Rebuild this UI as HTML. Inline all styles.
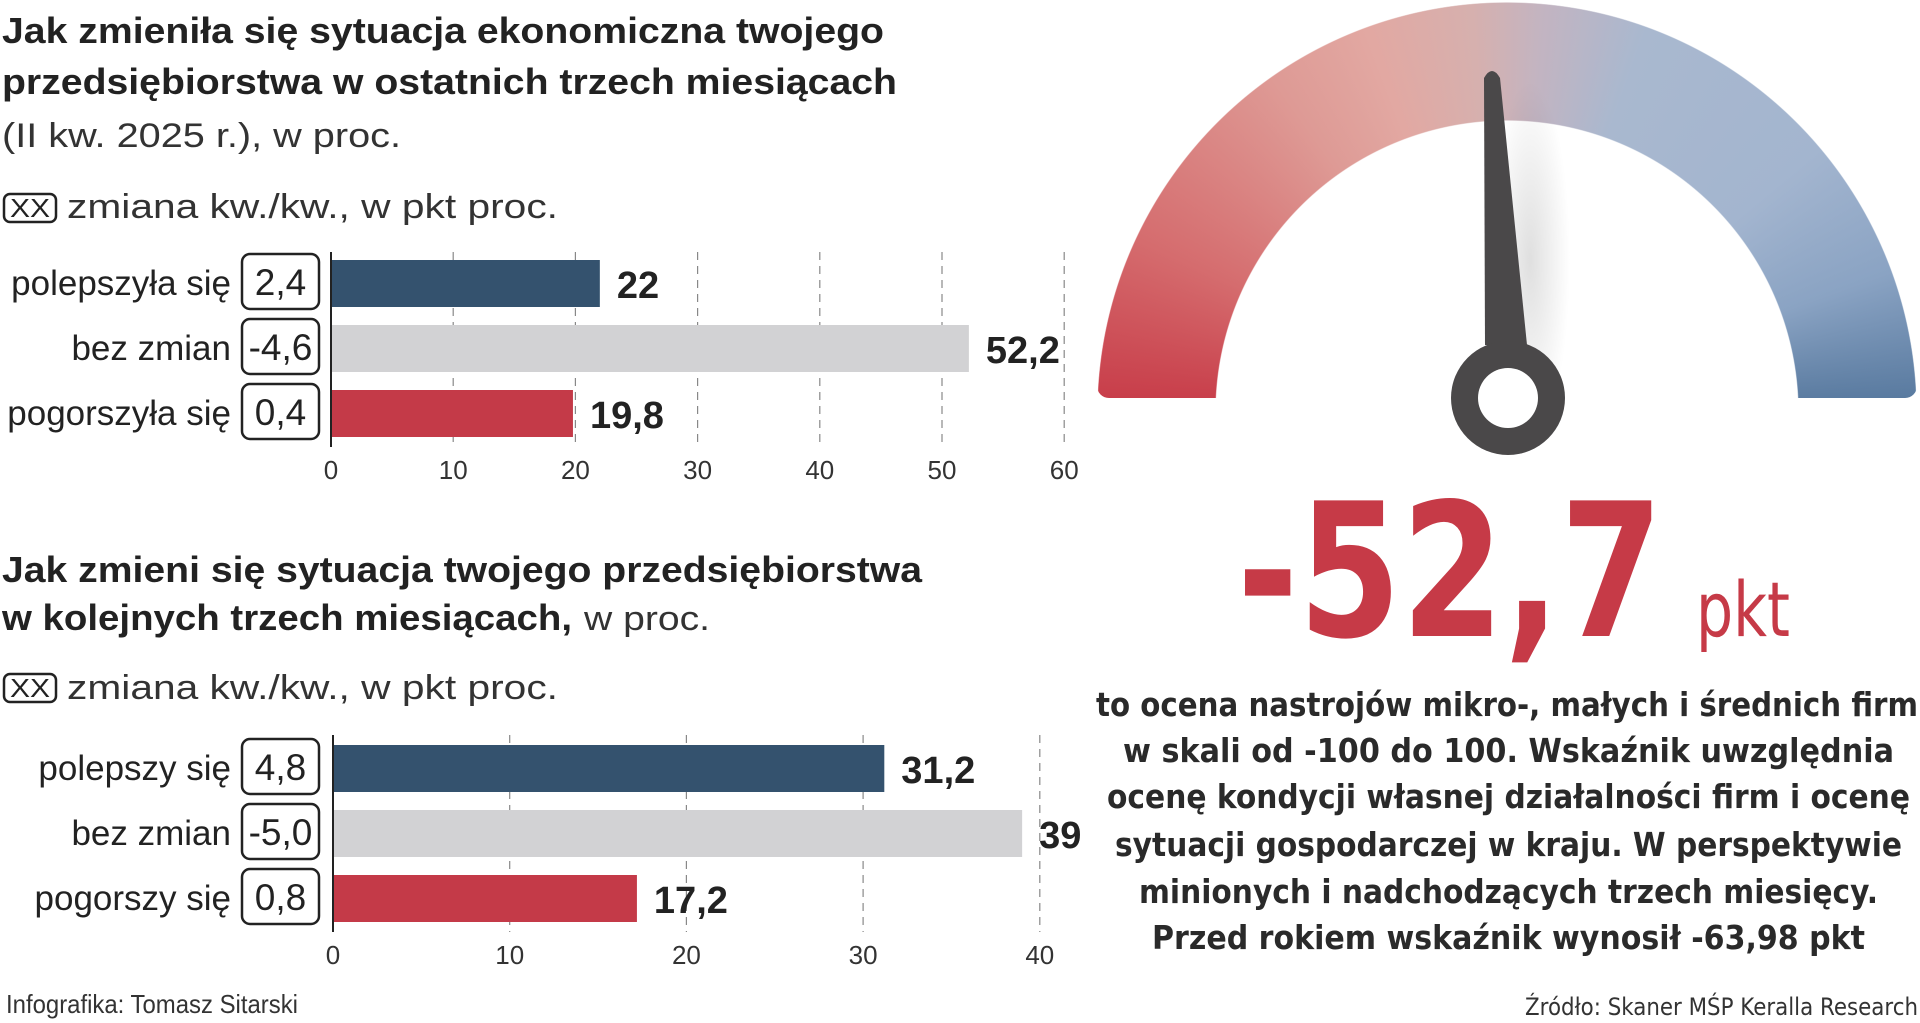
<!DOCTYPE html>
<html><head><meta charset="utf-8">
<style>
html,body{margin:0;padding:0;background:#fff;width:1920px;height:1023px;overflow:hidden}
svg{display:block}
.t{font-family:"Liberation Sans Narrow","Liberation Sans",sans-serif;fill:#222}
.b{font-weight:bold}
.l{fill:#333}
.g{font-family:"DejaVu Sans","Liberation Sans",sans-serif;font-weight:bold;fill:#2a2a2a}
</style></head>
<body>
<svg id="page" width="1920" height="1023" viewBox="0 0 1920 1023">
<defs>
<radialGradient id="shade" cx="0.5" cy="0.5" r="0.5">
<stop offset="0" stop-color="#000" stop-opacity="0.25"/><stop offset="1" stop-color="#000" stop-opacity="0"/>
</radialGradient>
</defs>
<g>
<text class="t b" x="2" y="43" font-size="36" textLength="882" lengthAdjust="spacingAndGlyphs">Jak zmieniła się sytuacja ekonomiczna twojego</text>
<text class="t b" x="2" y="94" font-size="36" textLength="895" lengthAdjust="spacingAndGlyphs">przedsiębiorstwa w ostatnich trzech miesiącach</text>
<text class="t l" x="2" y="147" font-size="34" textLength="399" lengthAdjust="spacingAndGlyphs">(II kw. 2025 r.), w proc.</text>
</g>
<g>
<rect x="4" y="194" width="52" height="28" rx="6" fill="none" stroke="#222" stroke-width="2.5"/>
<text class="t" x="30" y="217" font-size="26" text-anchor="middle" textLength="40" lengthAdjust="spacingAndGlyphs">XX</text>
<text class="t l" x="67" y="218" font-size="34" textLength="491" lengthAdjust="spacingAndGlyphs">zmiana kw./kw., w pkt proc.</text>
</g>
<g>
<text class="t b" x="2" y="582" font-size="36" textLength="920" lengthAdjust="spacingAndGlyphs">Jak zmieni się sytuacja twojego przedsiębiorstwa</text>
<text class="t b" x="2" y="630" font-size="36" textLength="570" lengthAdjust="spacingAndGlyphs">w kolejnych trzech miesiącach,</text>
<text class="t l" x="584" y="630" font-size="34" textLength="126" lengthAdjust="spacingAndGlyphs">w proc.</text>
</g>
<g>
<rect x="4" y="674" width="52" height="28" rx="6" fill="none" stroke="#222" stroke-width="2.5"/>
<text class="t" x="30" y="697" font-size="26" text-anchor="middle" textLength="40" lengthAdjust="spacingAndGlyphs">XX</text>
<text class="t l" x="67" y="699" font-size="34" textLength="491" lengthAdjust="spacingAndGlyphs">zmiana kw./kw., w pkt proc.</text>
</g>
<g id="chart1"></g>
<g id="chart2"></g>
<text class="t l" x="6" y="1013" font-size="26" textLength="292" lengthAdjust="spacingAndGlyphs">Infografika: Tomasz Sitarski</text>

<foreignObject x="1090" y="0" width="830" height="420">
<div xmlns="http://www.w3.org/1999/xhtml" style="position:absolute;left:7px;top:2px;width:820px;height:820px;border-radius:50%;
background:conic-gradient(from 270deg at 50% 50%,#c73a47 0deg,#d56c6e 25deg,#de9a95 55deg,#e2a8a2 70deg,#d6b0ae 85deg,#c3b4c1 95deg,#a9b8cf 110deg,#a3b5cf 140deg,#8aa3c3 160deg,#54769c 180deg,#54769c 360deg);
-webkit-mask:radial-gradient(circle at 50% 50%,transparent 291px,#000 292px,#000 409px,transparent 410px);mask:radial-gradient(circle at 50% 50%,transparent 291px,#000 292px,#000 409px,transparent 410px);
clip-path:inset(0 0 51.7% 0 round 0 0 12px 12px)"></div>
</foreignObject>
<g>
<ellipse cx="1530" cy="260" rx="40" ry="180" fill="url(#shade)" opacity="0.5"/>
<path d="M1484,78 Q1492,64 1500,78 L1527,345 L1485,345 Z" fill="#4a4849"/>
<circle cx="1508" cy="398" r="57" fill="#4a4849"/>
<circle cx="1508" cy="398" r="30" fill="#fff"/>
</g>
<text x="1237" y="636" font-family="'DejaVu Sans','Liberation Sans',sans-serif" font-weight="bold" font-size="186" fill="#c63a47" textLength="426" lengthAdjust="spacingAndGlyphs">-52,7</text>
<text x="1696" y="636" font-family="'DejaVu Sans','Liberation Sans',sans-serif" font-size="76" fill="#c63a47" textLength="94" lengthAdjust="spacingAndGlyphs">pkt</text>
<g>
<text class="g" x="1096" y="716" font-size="33" textLength="822" lengthAdjust="spacingAndGlyphs">to ocena nastrojów mikro-, małych i średnich firm</text>
<text class="g" x="1123" y="762" font-size="33" textLength="771" lengthAdjust="spacingAndGlyphs">w skali od -100 do 100. Wskaźnik uwzględnia</text>
<text class="g" x="1107" y="808" font-size="33" textLength="803" lengthAdjust="spacingAndGlyphs">ocenę kondycji własnej działalności firm i ocenę</text>
<text class="g" x="1115" y="856" font-size="33" textLength="787" lengthAdjust="spacingAndGlyphs">sytuacji gospodarczej w kraju. W perspektywie</text>
<text class="g" x="1139" y="903" font-size="33" textLength="739" lengthAdjust="spacingAndGlyphs">minionych i nadchodzących trzech miesięcy.</text>
<text class="g" x="1152" y="949" font-size="33" textLength="713" lengthAdjust="spacingAndGlyphs">Przed rokiem wskaźnik wynosił -63,98 pkt</text>
</g>
<text x="1525" y="1015" font-family="'DejaVu Sans','Liberation Sans',sans-serif" font-size="24" fill="#333" textLength="393" lengthAdjust="spacingAndGlyphs">Źródło: Skaner MŚP Keralla Research</text>
</svg>
<script>
const cats1 = ["polepszyła się", "bez zmian", "pogorszyła się"];
const vals1 = [22, 52.2, 19.8];
const labels1 = ["22", "52,2", "19,8"];
const changes1 = ["2,4", "-4,6", "0,4"];
const ticks1 = [0, 10, 20, 30, 40, 50, 60];
const cats2 = ["polepszy się", "bez zmian", "pogorszy się"];
const vals2 = [31.2, 39, 17.2];
const labels2 = ["31,2", "39", "17,2"];
const changes2 = ["4,8", "-5,0", "0,8"];
const ticks2 = [0, 10, 20, 30, 40];
const colors = ["#34526e", "#d2d2d4", "#c43a48"];
const NS = "http://www.w3.org/2000/svg";

function mk(tag, attrs, parent) {
  const e = document.createElementNS(NS, tag);
  for (const k in attrs) e.setAttribute(k, attrs[k]);
  parent.appendChild(e);
  return e;
}

function drawChart(g, cats, vals, labels, changes, ticks, x0, pxPer10, top, axisTop, axisBot, tickY) {
  const xs = v => x0 + v * pxPer10 / 10;
  ticks.forEach(t => {
    if (t > 0) {
      const gl = mk("line", {x1: xs(t), x2: xs(t), y1: axisTop, y2: axisBot, stroke: "#888", "stroke-width": 1.2, "stroke-dasharray": "8 6"}, g);
      
      
    }
    const tl = mk("text", {x: xs(t), y: tickY + 9, "text-anchor": "middle", "font-size": 26, class: "t l", "font-weight": "300"}, g);
    tl.textContent = t;
    
    
  });
  cats.forEach((c, i) => {
    const y = top + i * 65;
    const bar = mk("rect", {x: x0, y: y, width: xs(vals[i]) - x0, height: 47, fill: colors[i]}, g);
    
    
    const vl = mk("text", {x: xs(vals[i]) + 17, y: y + 38, "font-size": 38, class: "t b"}, g);
    vl.textContent = labels[i];
    
    
    const box = mk("rect", {x: 242, y: y - 6, width: 77, height: 55, rx: 8, fill: "#fff", stroke: "#222", "stroke-width": 2.5}, g);
    
    
    const bt = mk("text", {x: 280.5, y: y + 35, "text-anchor": "middle", "font-size": 37, class: "t"}, g);
    bt.textContent = changes[i];
    
    
    const cl = mk("text", {x: 231, y: y + 35, "text-anchor": "end", "font-size": 35, class: "t"}, g);
    cl.textContent = c;
    
    
  });
  const ax = mk("line", {x1: x0, x2: x0, y1: axisTop, y2: axisBot, stroke: "#222", "stroke-width": 2}, g);
  
  
}
drawChart(document.getElementById("chart1"), cats1, vals1, labels1, changes1, ticks1, 331, 122.2, 260, 252, 447, 470);
drawChart(document.getElementById("chart2"), cats2, vals2, labels2, changes2, ticks2, 333, 176.7, 745, 735, 932, 955);
</script>
</body></html>
